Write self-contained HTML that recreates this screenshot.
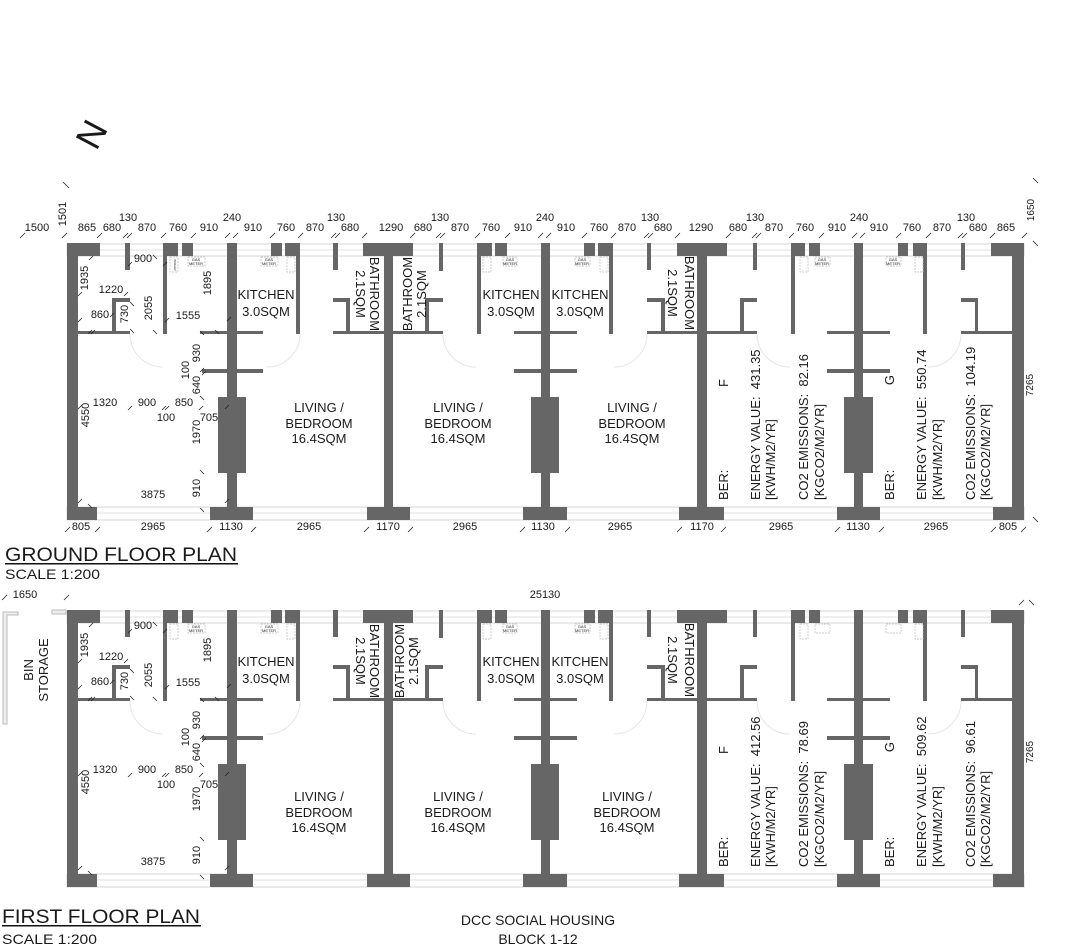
<!DOCTYPE html>
<html><head><meta charset="utf-8"><style>
html,body{margin:0;padding:0;background:#fff;}
svg{display:block;}
text{font-family:"Liberation Sans",sans-serif;fill:#1a1a1a;}
.d{font-size:11px;}
.r{font-size:13px;}
.t{font-size:4px;fill:#777;}
</style></head><body>
<svg width="1072" height="950" viewBox="0 0 1072 950" xmlns="http://www.w3.org/2000/svg">
<defs>
<g id="plan">
  <!-- window strips -->
  <rect x="67" y="244" width="957" height="12" fill="#fff" stroke="#d4d4d4" stroke-width="1"/>
  <line x1="67" y1="250" x2="1024" y2="250" stroke="#e2e2e2"/>
  <rect x="67" y="507" width="957" height="13" fill="#fff" stroke="#d4d4d4" stroke-width="1"/>
  <line x1="67" y1="513" x2="1024" y2="513" stroke="#e2e2e2"/>
  <g fill="#666">
    <!-- outer walls -->
    <rect x="67" y="243" width="11" height="277"/>
    <rect x="1012" y="243" width="12" height="277"/>
    <!-- party walls -->
    <rect x="227" y="243" width="10" height="277"/>
    <rect x="384" y="243" width="9" height="277"/>
    <rect x="541" y="243" width="9" height="277"/>
    <rect x="697" y="243" width="10" height="277"/>
    <rect x="854" y="243" width="9" height="277"/>
    <!-- top pieces -->
    <rect x="67" y="243" width="33" height="13"/>
    <rect x="125" y="243" width="5" height="27"/>
    <rect x="163" y="243" width="15" height="13"/>
    <rect x="182" y="243" width="11" height="13"/>
    <rect x="271" y="243" width="11" height="13"/>
    <rect x="285" y="243" width="15" height="13"/>
    <rect x="333" y="243" width="5" height="27"/>
    <rect x="363" y="243" width="50" height="13"/>
    <rect x="439" y="243" width="4" height="28"/>
    <rect x="477" y="243" width="15" height="13"/>
    <rect x="495" y="243" width="12" height="13"/>
    <rect x="584" y="243" width="11" height="13"/>
    <rect x="598" y="243" width="15" height="13"/>
    <rect x="647" y="243" width="4" height="27"/>
    <rect x="677" y="243" width="50" height="13"/>
    <rect x="753" y="243" width="4" height="27"/>
    <rect x="791" y="243" width="14" height="13"/>
    <rect x="809" y="243" width="11" height="13"/>
    <rect x="898" y="243" width="10" height="13"/>
    <rect x="913" y="243" width="14" height="13"/>
    <rect x="961" y="243" width="4" height="27"/>
    <rect x="991" y="243" width="33" height="13"/>
    <!-- kitchen walls -->
    <rect x="163" y="243" width="4" height="91"/>
    <rect x="296" y="243" width="4" height="91"/>
    <rect x="477" y="243" width="4" height="91"/>
    <rect x="609" y="243" width="4" height="91"/>
    <rect x="791" y="243" width="4" height="91"/>
    <rect x="923" y="243" width="4" height="91"/>
    <!-- horizontal walls -->
    <rect x="78" y="331" width="52" height="3"/>
    <rect x="200" y="331" width="63" height="3"/>
    <rect x="202" y="369" width="61" height="4"/>
    <rect x="333" y="331" width="110" height="3"/>
    <rect x="514" y="331" width="63" height="3"/>
    <rect x="514" y="369" width="63" height="4"/>
    <rect x="647" y="331" width="110" height="3"/>
    <rect x="827" y="331" width="63" height="3"/>
    <rect x="827" y="369" width="63" height="4"/>
    <rect x="961" y="331" width="51" height="3"/>
    <!-- bathroom returns -->
    <rect x="112" y="298" width="18" height="4"/><rect x="112" y="298" width="4" height="36"/>
    <rect x="333" y="298" width="17" height="4"/><rect x="346" y="298" width="4" height="36"/>
    <rect x="425" y="298" width="18" height="4"/><rect x="425" y="298" width="4" height="36"/>
    <rect x="647" y="298" width="18" height="4"/><rect x="661" y="298" width="4" height="36"/>
    <rect x="740" y="298" width="17" height="4"/><rect x="740" y="298" width="4" height="36"/>
    <rect x="961" y="298" width="17" height="4"/><rect x="975" y="298" width="3" height="36"/>
    <!-- chimneys -->
    <rect x="218" y="397" width="28" height="76"/>
    <rect x="531" y="397" width="28" height="76"/>
    <rect x="844" y="397" width="29" height="76"/>
    <!-- bottom pieces -->
    <rect x="67" y="507" width="30" height="13"/>
    <rect x="210" y="507" width="43" height="13"/>
    <rect x="367" y="507" width="43" height="13"/>
    <rect x="523" y="507" width="44" height="13"/>
    <rect x="679" y="507" width="45" height="13"/>
    <rect x="837" y="507" width="43" height="13"/>
    <rect x="993" y="507" width="31" height="13"/>
  </g>
  <!-- boiler / meter boxes -->
  <g fill="none" stroke="#bbb" stroke-width="0.7" stroke-dasharray="2 1">
    <rect x="170" y="257" width="8" height="15"/><rect x="188" y="257" width="17" height="9"/>
    <rect x="261" y="257" width="17" height="9"/><rect x="287" y="257" width="8" height="15"/>
    <rect x="483" y="257" width="8" height="15"/><rect x="503" y="257" width="14" height="9"/>
    <rect x="575" y="257" width="15" height="9"/><rect x="600" y="257" width="8" height="15"/>
    <rect x="800" y="257" width="8" height="15"/><rect x="815" y="257" width="15" height="9"/>
    <rect x="886" y="257" width="15" height="9"/><rect x="915" y="257" width="8" height="15"/>
  </g>
  <!-- faint door arcs -->
  <g fill="none" stroke="#e6e6e6" stroke-width="1">
    <path d="M130 334 A33 33 0 0 0 163 367"/>
    <path d="M300 334 A33 33 0 0 1 267 367"/>
    <path d="M443 334 A33 33 0 0 0 476 367"/>
    <path d="M647 334 A33 33 0 0 1 614 367"/>
    <path d="M757 334 A33 33 0 0 0 790 367"/>
    <path d="M961 334 A33 33 0 0 1 928 367"/>
  </g>
  <!-- inner dims ticks unit1 -->
  <g stroke="#222" stroke-width="0.8">
    <line x1="89" y1="260" x2="93" y2="256"/><line x1="153" y1="255" x2="157" y2="259"/>
    <line x1="128" y1="266" x2="132" y2="262"/><line x1="163" y1="266" x2="167" y2="262"/>
    <line x1="78" y1="296" x2="82" y2="292"/><line x1="78" y1="322" x2="82" y2="318"/>
    <line x1="124" y1="296" x2="128" y2="292"/><line x1="130" y1="302" x2="134" y2="306"/>
    <line x1="110" y1="317" x2="114" y2="313"/><line x1="130" y1="329" x2="134" y2="333"/>
    <line x1="88" y1="334" x2="92" y2="330"/><line x1="91" y1="334" x2="95" y2="330"/>
    <line x1="153" y1="330" x2="157" y2="334"/><line x1="165" y1="322" x2="169" y2="318"/>
    <line x1="200" y1="331" x2="204" y2="335"/><line x1="215" y1="330" x2="219" y2="334"/>
    <line x1="227" y1="321" x2="231" y2="317"/><line x1="200" y1="372" x2="204" y2="368"/>
    <line x1="202" y1="375" x2="206" y2="371"/><line x1="200" y1="396" x2="204" y2="400"/>
    <line x1="128" y1="410" x2="132" y2="406"/><line x1="162" y1="410" x2="166" y2="406"/>
    <line x1="165" y1="410" x2="169" y2="406"/><line x1="199" y1="410" x2="203" y2="406"/>
    <line x1="225" y1="409" x2="229" y2="405"/><line x1="78" y1="409" x2="82" y2="405"/>
    <line x1="200" y1="470" x2="204" y2="474"/><line x1="78" y1="503" x2="82" y2="499"/>
    <line x1="88" y1="504" x2="92" y2="508"/><line x1="200" y1="508" x2="204" y2="512"/>
    <line x1="225" y1="503" x2="229" y2="499"/>
  </g>
</g>
</defs>

<!-- North -->
<text x="91" y="147" font-size="36" text-anchor="middle" transform="rotate(-62 91 134)">N</text>
<line x1="63" y1="182" x2="69" y2="188" stroke="#222" stroke-width="0.8"/>

<!-- GROUND FLOOR -->
<use href="#plan"/>
<g class="d">
  <text x="37" y="231" text-anchor="middle">1500</text>
  <text x="87" y="231" text-anchor="middle">865</text>
  <text x="112" y="231" text-anchor="middle">680</text>
  <text x="128" y="221" text-anchor="middle">130</text>
  <text x="147" y="231" text-anchor="middle">870</text>
  <text x="178" y="231" text-anchor="middle">760</text>
  <text x="209" y="231" text-anchor="middle">910</text>
  <text x="232" y="221" text-anchor="middle">240</text>
  <text x="253" y="231" text-anchor="middle">910</text>
  <text x="286" y="231" text-anchor="middle">760</text>
  <text x="315" y="231" text-anchor="middle">870</text>
  <text x="336" y="221" text-anchor="middle">130</text>
  <text x="350" y="231" text-anchor="middle">680</text>
  <text x="391" y="231" text-anchor="middle">1290</text>
  <text x="423" y="231" text-anchor="middle">680</text>
  <text x="440" y="221" text-anchor="middle">130</text>
  <text x="460" y="231" text-anchor="middle">870</text>
  <text x="491" y="231" text-anchor="middle">760</text>
  <text x="523" y="231" text-anchor="middle">910</text>
  <text x="545" y="221" text-anchor="middle">240</text>
  <text x="566" y="231" text-anchor="middle">910</text>
  <text x="599" y="231" text-anchor="middle">760</text>
  <text x="627" y="231" text-anchor="middle">870</text>
  <text x="650" y="221" text-anchor="middle">130</text>
  <text x="663" y="231" text-anchor="middle">680</text>
  <text x="701" y="231" text-anchor="middle">1290</text>
  <text x="738" y="231" text-anchor="middle">680</text>
  <text x="755" y="221" text-anchor="middle">130</text>
  <text x="774" y="231" text-anchor="middle">870</text>
  <text x="805" y="231" text-anchor="middle">760</text>
  <text x="837" y="231" text-anchor="middle">910</text>
  <text x="859" y="221" text-anchor="middle">240</text>
  <text x="879" y="231" text-anchor="middle">910</text>
  <text x="912" y="231" text-anchor="middle">760</text>
  <text x="942" y="231" text-anchor="middle">870</text>
  <text x="966" y="221" text-anchor="middle">130</text>
  <text x="978" y="231" text-anchor="middle">680</text>
  <text x="1006" y="231" text-anchor="middle">865</text>
  <text x="66" y="214" text-anchor="middle" transform="rotate(-90 66 214)">1501</text>
  <text x="1034" y="210" text-anchor="middle" transform="rotate(-90 1034 210)" font-size="10">1650</text>
  <text x="1033" y="385" text-anchor="middle" transform="rotate(-90 1033 385)" font-size="10">7265</text>
  <!-- bottom -->
  <text x="81" y="530" text-anchor="middle">805</text>
  <text x="153" y="530" text-anchor="middle">2965</text>
  <text x="231" y="530" text-anchor="middle">1130</text>
  <text x="309" y="530" text-anchor="middle">2965</text>
  <text x="388" y="530" text-anchor="middle">1170</text>
  <text x="465" y="530" text-anchor="middle">2965</text>
  <text x="543" y="530" text-anchor="middle">1130</text>
  <text x="620" y="530" text-anchor="middle">2965</text>
  <text x="702" y="530" text-anchor="middle">1170</text>
  <text x="781" y="530" text-anchor="middle">2965</text>
  <text x="858" y="530" text-anchor="middle">1130</text>
  <text x="936" y="530" text-anchor="middle">2965</text>
  <text x="1008" y="530" text-anchor="middle">805</text>
  <!-- inner -->
  <text x="143" y="262" text-anchor="middle">900</text>
  <text x="88" y="278" text-anchor="middle" transform="rotate(-90 88 278)">1935</text>
  <text x="111" y="293" text-anchor="middle">1220</text>
  <text x="100" y="318" text-anchor="middle">860</text>
  <text x="128" y="314" text-anchor="middle" transform="rotate(-90 128 314)">730</text>
  <text x="152" y="308" text-anchor="middle" transform="rotate(-90 152 308)">2055</text>
  <text x="188" y="319" text-anchor="middle">1555</text>
  <text x="211" y="283" text-anchor="middle" transform="rotate(-90 211 283)">1895</text>
  <text x="200" y="353" text-anchor="middle" transform="rotate(-90 200 353)">930</text>
  <text x="189" y="370" text-anchor="middle" transform="rotate(-90 189 370)">100</text>
  <text x="200" y="385" text-anchor="middle" transform="rotate(-90 200 385)">640</text>
  <text x="105" y="406" text-anchor="middle">1320</text>
  <text x="147" y="406" text-anchor="middle">900</text>
  <text x="184" y="406" text-anchor="middle">850</text>
  <text x="166" y="421" text-anchor="middle">100</text>
  <text x="209" y="421" text-anchor="middle">705</text>
  <text x="89" y="415" text-anchor="middle" transform="rotate(-90 89 415)">4550</text>
  <text x="200" y="432" text-anchor="middle" transform="rotate(-90 200 432)">1970</text>
  <text x="153" y="498" text-anchor="middle">3875</text>
  <text x="200" y="488" text-anchor="middle" transform="rotate(-90 200 488)">910</text>
</g>
<g stroke="#222" stroke-width="0.8">
  <line x1="20" y1="238" x2="25" y2="233"/><line x1="62" y1="238" x2="67" y2="233"/>
  <line x1="97" y1="238" x2="102" y2="233"/><line x1="123" y1="238" x2="128" y2="233"/>
  <line x1="127" y1="238" x2="132" y2="233"/><line x1="161" y1="238" x2="166" y2="233"/>
  <line x1="191" y1="238" x2="196" y2="233"/><line x1="225" y1="238" x2="230" y2="233"/>
  <line x1="233" y1="238" x2="238" y2="233"/><line x1="270" y1="238" x2="275" y2="233"/>
  <line x1="298" y1="238" x2="303" y2="233"/><line x1="331" y1="238" x2="336" y2="233"/>
  <line x1="335" y1="238" x2="340" y2="233"/><line x1="362" y1="238" x2="367" y2="233"/>
  <line x1="410" y1="238" x2="415" y2="233"/><line x1="436" y1="238" x2="441" y2="233"/>
  <line x1="440" y1="238" x2="445" y2="233"/><line x1="475" y1="238" x2="480" y2="233"/>
  <line x1="505" y1="238" x2="510" y2="233"/><line x1="538" y1="238" x2="543" y2="233"/>
  <line x1="546" y1="238" x2="551" y2="233"/><line x1="582" y1="238" x2="587" y2="233"/>
  <line x1="611" y1="238" x2="616" y2="233"/><line x1="644" y1="238" x2="649" y2="233"/>
  <line x1="648" y1="238" x2="653" y2="233"/><line x1="675" y1="238" x2="680" y2="233"/>
  <line x1="726" y1="238" x2="731" y2="233"/><line x1="752" y1="238" x2="757" y2="233"/>
  <line x1="756" y1="238" x2="761" y2="233"/><line x1="789" y1="238" x2="794" y2="233"/>
  <line x1="819" y1="238" x2="824" y2="233"/><line x1="852" y1="238" x2="857" y2="233"/>
  <line x1="860" y1="238" x2="865" y2="233"/><line x1="896" y1="238" x2="901" y2="233"/>
  <line x1="926" y1="238" x2="931" y2="233"/><line x1="958" y1="238" x2="963" y2="233"/>
  <line x1="962" y1="238" x2="967" y2="233"/><line x1="990" y1="238" x2="995" y2="233"/>
  <line x1="1022" y1="238" x2="1027" y2="233"/><line x1="1033" y1="178" x2="1038" y2="183"/>
  <line x1="1033" y1="241" x2="1038" y2="246"/><line x1="1033" y1="517" x2="1038" y2="522"/>
  <line x1="65" y1="532" x2="70" y2="527"/><line x1="95" y1="532" x2="100" y2="527"/>
  <line x1="207" y1="532" x2="212" y2="527"/><line x1="251" y1="532" x2="256" y2="527"/>
  <line x1="364" y1="532" x2="369" y2="527"/><line x1="408" y1="532" x2="413" y2="527"/>
  <line x1="520" y1="532" x2="525" y2="527"/><line x1="565" y1="532" x2="570" y2="527"/>
  <line x1="677" y1="532" x2="682" y2="527"/><line x1="721" y1="532" x2="726" y2="527"/>
  <line x1="835" y1="532" x2="840" y2="527"/><line x1="879" y1="532" x2="884" y2="527"/>
  <line x1="991" y1="532" x2="996" y2="527"/><line x1="1021" y1="532" x2="1026" y2="527"/>
</g>
<g class="r">
  <text x="266" y="299" text-anchor="middle">KITCHEN</text>
  <text x="266" y="316" text-anchor="middle">3.0SQM</text>
  <text x="511" y="299" text-anchor="middle">KITCHEN</text>
  <text x="511" y="316" text-anchor="middle">3.0SQM</text>
  <text x="580" y="299" text-anchor="middle">KITCHEN</text>
  <text x="580" y="316" text-anchor="middle">3.0SQM</text>
  <text x="319" y="412" text-anchor="middle">LIVING /</text>
  <text x="319" y="428" text-anchor="middle">BEDROOM</text>
  <text x="319" y="443" text-anchor="middle">16.4SQM</text>
  <text x="458" y="412" text-anchor="middle">LIVING /</text>
  <text x="458" y="428" text-anchor="middle">BEDROOM</text>
  <text x="458" y="443" text-anchor="middle">16.4SQM</text>
  <text x="632" y="412" text-anchor="middle">LIVING /</text>
  <text x="632" y="428" text-anchor="middle">BEDROOM</text>
  <text x="632" y="443" text-anchor="middle">16.4SQM</text>
  <text x="370" y="294" text-anchor="middle" transform="rotate(90 370 294)">BATHROOM</text>
  <text x="356" y="294" text-anchor="middle" transform="rotate(90 356 294)">2.1SQM</text>
  <text x="412" y="294" text-anchor="middle" transform="rotate(-90 412 294)">BATHROOM</text>
  <text x="426" y="294" text-anchor="middle" transform="rotate(-90 426 294)">2.1SQM</text>
  <text x="685" y="293" text-anchor="middle" transform="rotate(90 685 293)">BATHROOM</text>
  <text x="668" y="293" text-anchor="middle" transform="rotate(90 668 293)">2.1SQM</text>
  <text x="728" y="500" transform="rotate(-90 728 500)">BER:</text>
  <text x="728" y="383" text-anchor="middle" transform="rotate(-90 728 383)">F</text>
  <text x="760" y="500" transform="rotate(-90 760 500)" xml:space="preserve">ENERGY VALUE:  431.35</text>
  <text x="775" y="500" transform="rotate(-90 775 500)">[KWH/M2/YR]</text>
  <text x="808" y="500" transform="rotate(-90 808 500)" xml:space="preserve">CO2 EMISSIONS:  82.16</text>
  <text x="824" y="500" transform="rotate(-90 824 500)">[KGCO2/M2/YR]</text>
  <text x="894" y="500" transform="rotate(-90 894 500)">BER:</text>
  <text x="894" y="380" text-anchor="middle" transform="rotate(-90 894 380)">G</text>
  <text x="926" y="500" transform="rotate(-90 926 500)" xml:space="preserve">ENERGY VALUE:  550.74</text>
  <text x="942" y="500" transform="rotate(-90 942 500)">[KWH/M2/YR]</text>
  <text x="975" y="500" transform="rotate(-90 975 500)" xml:space="preserve">CO2 EMISSIONS:  104.19</text>
  <text x="990" y="500" transform="rotate(-90 990 500)">[KGCO2/M2/YR]</text>
</g>
<g class="t">
  <text x="174" y="265" transform="rotate(90 174 265)" text-anchor="middle" font-size="3">BOILER</text>
  <text x="196" y="261" text-anchor="middle">GAS</text><text x="196" y="265" text-anchor="middle">METER</text>
  <text x="269" y="261" text-anchor="middle">GAS</text><text x="269" y="265" text-anchor="middle">METER</text>
  <text x="510" y="261" text-anchor="middle">GAS</text><text x="510" y="265" text-anchor="middle">METER</text>
  <text x="582" y="261" text-anchor="middle">GAS</text><text x="582" y="265" text-anchor="middle">METER</text>
  <text x="822" y="261" text-anchor="middle">GAS</text><text x="822" y="265" text-anchor="middle">METER</text>
  <text x="893" y="261" text-anchor="middle">GAS</text><text x="893" y="265" text-anchor="middle">METER</text>
</g>
<text x="5" y="561" font-size="19" textLength="232" lengthAdjust="spacingAndGlyphs">GROUND FLOOR PLAN</text>
<rect x="5" y="563" width="233" height="1.5" fill="#111"/>
<text x="5" y="579" font-size="14" textLength="95" lengthAdjust="spacingAndGlyphs">SCALE 1:200</text>

<!-- FIRST FLOOR -->
<use href="#plan" transform="translate(0 367)"/>
<g fill="#fff" stroke="#bbb" stroke-width="1">
  <path d="M3 612 H18 V615 H7 V724 H3 Z" fill="#eee"/>
  <rect x="52" y="610" width="14" height="4" fill="#eee"/>
</g>
<text x="545" y="598" class="d" text-anchor="middle">25130</text>
<text x="25" y="598" class="d" text-anchor="middle">1650</text>
<g stroke="#222" stroke-width="0.8">
  <line x1="2" y1="600" x2="7" y2="595"/><line x1="64" y1="600" x2="69" y2="595"/>
  <line x1="1019" y1="605" x2="1024" y2="600"/><line x1="1029" y1="600" x2="1034" y2="605"/>
</g>
<g class="r">
  <text x="33" y="670" text-anchor="middle" transform="rotate(-90 33 670)">BIN</text>
  <text x="48" y="670" text-anchor="middle" transform="rotate(-90 48 670)">STORAGE</text>
</g>
<g class="d">
  <text x="143" y="629" text-anchor="middle">900</text>
  <text x="88" y="645" text-anchor="middle" transform="rotate(-90 88 645)">1935</text>
  <text x="111" y="660" text-anchor="middle">1220</text>
  <text x="100" y="685" text-anchor="middle">860</text>
  <text x="128" y="681" text-anchor="middle" transform="rotate(-90 128 681)">730</text>
  <text x="152" y="675" text-anchor="middle" transform="rotate(-90 152 675)">2055</text>
  <text x="188" y="686" text-anchor="middle">1555</text>
  <text x="211" y="650" text-anchor="middle" transform="rotate(-90 211 650)">1895</text>
  <text x="200" y="720" text-anchor="middle" transform="rotate(-90 200 720)">930</text>
  <text x="189" y="737" text-anchor="middle" transform="rotate(-90 189 737)">100</text>
  <text x="200" y="752" text-anchor="middle" transform="rotate(-90 200 752)">640</text>
  <text x="105" y="773" text-anchor="middle">1320</text>
  <text x="147" y="773" text-anchor="middle">900</text>
  <text x="184" y="773" text-anchor="middle">850</text>
  <text x="166" y="788" text-anchor="middle">100</text>
  <text x="209" y="788" text-anchor="middle">705</text>
  <text x="89" y="782" text-anchor="middle" transform="rotate(-90 89 782)">4550</text>
  <text x="200" y="799" text-anchor="middle" transform="rotate(-90 200 799)">1970</text>
  <text x="153" y="865" text-anchor="middle">3875</text>
  <text x="200" y="855" text-anchor="middle" transform="rotate(-90 200 855)">910</text>
  <text x="1033" y="752" text-anchor="middle" transform="rotate(-90 1033 752)" font-size="10">7265</text>
</g>
<g class="r">
  <text x="266" y="666" text-anchor="middle">KITCHEN</text>
  <text x="266" y="683" text-anchor="middle">3.0SQM</text>
  <text x="511" y="666" text-anchor="middle">KITCHEN</text>
  <text x="511" y="683" text-anchor="middle">3.0SQM</text>
  <text x="580" y="666" text-anchor="middle">KITCHEN</text>
  <text x="580" y="683" text-anchor="middle">3.0SQM</text>
  <text x="319" y="801" text-anchor="middle">LIVING /</text>
  <text x="319" y="817" text-anchor="middle">BEDROOM</text>
  <text x="319" y="832" text-anchor="middle">16.4SQM</text>
  <text x="458" y="801" text-anchor="middle">LIVING /</text>
  <text x="458" y="817" text-anchor="middle">BEDROOM</text>
  <text x="458" y="832" text-anchor="middle">16.4SQM</text>
  <text x="627" y="801" text-anchor="middle">LIVING /</text>
  <text x="627" y="817" text-anchor="middle">BEDROOM</text>
  <text x="627" y="832" text-anchor="middle">16.4SQM</text>
  <text x="370" y="661" text-anchor="middle" transform="rotate(90 370 661)">BATHROOM</text>
  <text x="356" y="661" text-anchor="middle" transform="rotate(90 356 661)">2.1SQM</text>
  <text x="404" y="661" text-anchor="middle" transform="rotate(-90 404 661)">BATHROOM</text>
  <text x="418" y="661" text-anchor="middle" transform="rotate(-90 418 661)">2.1SQM</text>
  <text x="685" y="660" text-anchor="middle" transform="rotate(90 685 660)">BATHROOM</text>
  <text x="668" y="660" text-anchor="middle" transform="rotate(90 668 660)">2.1SQM</text>
  <text x="728" y="867" transform="rotate(-90 728 867)">BER:</text>
  <text x="728" y="750" text-anchor="middle" transform="rotate(-90 728 750)">F</text>
  <text x="760" y="867" transform="rotate(-90 760 867)" xml:space="preserve">ENERGY VALUE:  412.56</text>
  <text x="775" y="867" transform="rotate(-90 775 867)">[KWH/M2/YR]</text>
  <text x="808" y="867" transform="rotate(-90 808 867)" xml:space="preserve">CO2 EMISSIONS:  78.69</text>
  <text x="824" y="867" transform="rotate(-90 824 867)">[KGCO2/M2/YR]</text>
  <text x="894" y="867" transform="rotate(-90 894 867)">BER:</text>
  <text x="894" y="747" text-anchor="middle" transform="rotate(-90 894 747)">G</text>
  <text x="926" y="867" transform="rotate(-90 926 867)" xml:space="preserve">ENERGY VALUE:  509.62</text>
  <text x="942" y="867" transform="rotate(-90 942 867)">[KWH/M2/YR]</text>
  <text x="975" y="867" transform="rotate(-90 975 867)" xml:space="preserve">CO2 EMISSIONS:  96.61</text>
  <text x="990" y="867" transform="rotate(-90 990 867)">[KGCO2/M2/YR]</text>
</g>
<g class="t">
  <text x="196" y="628" text-anchor="middle">GAS</text><text x="196" y="632" text-anchor="middle">METER</text>
  <text x="269" y="628" text-anchor="middle">GAS</text><text x="269" y="632" text-anchor="middle">METER</text>
  <text x="510" y="628" text-anchor="middle">GAS</text><text x="510" y="632" text-anchor="middle">METER</text>
  <text x="582" y="628" text-anchor="middle">GAS</text><text x="582" y="632" text-anchor="middle">METER</text>
</g>
<text x="2" y="923" font-size="19" textLength="198" lengthAdjust="spacingAndGlyphs">FIRST FLOOR PLAN</text>
<rect x="2" y="925" width="199" height="1.5" fill="#111"/>
<text x="2" y="944" font-size="14" textLength="95" lengthAdjust="spacingAndGlyphs">SCALE 1:200</text>
<text x="538" y="925" font-size="14" text-anchor="middle">DCC SOCIAL HOUSING</text>
<text x="538" y="944" font-size="14" text-anchor="middle">BLOCK 1-12</text>
</svg>
</body></html>
